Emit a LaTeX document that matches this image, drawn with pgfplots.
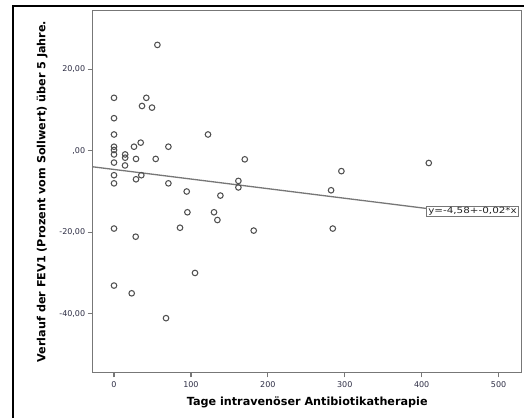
\documentclass[border=0pt]{standalone}
\usepackage{pgfplots}
\pgfplotsset{compat=1.18}
\usepackage{fontspec}
\setmainfont{DejaVu Sans}
\definecolor{axisgray}{HTML}{777777}
\definecolor{markgray}{HTML}{505050}
\definecolor{ticktext}{HTML}{2E2E45}

\pgfplotstableread{
x y
56.4 26.0
0 13.0
42 13.0
36.4 11.0
49.4 10.6
0 8.0
0 4.0
122.2 4.0
0 1.0
26 1.0
34.7 2.0
70.7 1.0
0 0.2
0 -0.9
0 -2.9
14.5 -0.9
14.5 -1.7
14.3 -3.6
28.6 -2.0
54.2 -2.0
170 -2.1
0 -6.0
35.5 -6.0
28.6 -7.0
0 -8.0
70.7 -8.0
161.7 -7.4
161.7 -9.0
94.5 -10.0
138.3 -11.0
295.6 -5.0
282.2 -9.7
409.2 -3.0
95.4 -15.1
130 -15.1
134.4 -17.0
85.8 -18.9
0 -19.1
284.4 -19.1
181.6 -19.6
28.2 -21.1
105.3 -30.0
0 -33.1
23 -35.0
67.6 -41.1
}\fevdata

% fitted line y = -4,58 + -0,02*x (slope -0.0236 before rounding)
\pgfplotstableread{
x y
-27.7 -3.93
406 -14.16
}\fitline

\begin{document}
\begin{tikzpicture}[x=1pt,y=1pt]
\useasboundingbox (0,0) rectangle (524,418);
\fill[white] (0,0) rectangle (524,418);
% outer frame
\draw[black, line width=2pt] (13,0) -- (13,412.3) -- (524,412.3);
\begin{axis}[
  at={(92.7pt,45.7pt)}, anchor=south west,
  scale only axis, width=429pt, height=361.6pt,
  xmin=-27.7, xmax=530, ymin=-54.4, ymax=34.4,
  axis line style={axisgray, line width=1.4pt},
  tick align=outside, tick pos=left,
  major tick length=5pt,
  tick style={axisgray, line width=1.2pt},
  xtick={0,100,200,300,400,500},
  ytick={-40,-20,0,20},
  yticklabels={{-40,00},{-20,00},{,00},{20,00}},
  /pgf/number format/assume math mode=true,
  ticklabel style={font=\fontsize{8}{9}\selectfont, text=ticktext},
  xticklabel style={yshift=-1pt},
  yticklabel style={xshift=1pt},
  xlabel={Tage intravenöser Antibiotikatherapie},
  ylabel={Verlauf der FEV1 (Prozent vom Sollwert) über 5 Jahre.},
  label style={font=\bfseries\fontsize{11.2}{13}\selectfont},
  xlabel style={at={(axis description cs:0.5,-0.084)}, anchor=center},
  ylabel style={at={(axis description cs:-0.118,0.5)}, anchor=center, rotate=0},
  clip=false,
]
\addplot[axisgray, line width=1.3pt] table[x=x,y=y] {\fitline};
\addplot[only marks, mark=o, mark size=2.8pt, mark options={draw=markgray, line width=1.05pt}] table[x=x,y=y] {\fevdata};
\node[draw=axisgray, line width=0.9pt, fill=white, anchor=west, inner xsep=1.5pt, inner ysep=1pt, text=black!85]
  at (axis cs:406,-14.9) {\scalebox{1.22}[1]{\fontsize{8.5}{9}\selectfont y=-4,58+-0,02*x}};
\end{axis}
\end{tikzpicture}
\end{document}
